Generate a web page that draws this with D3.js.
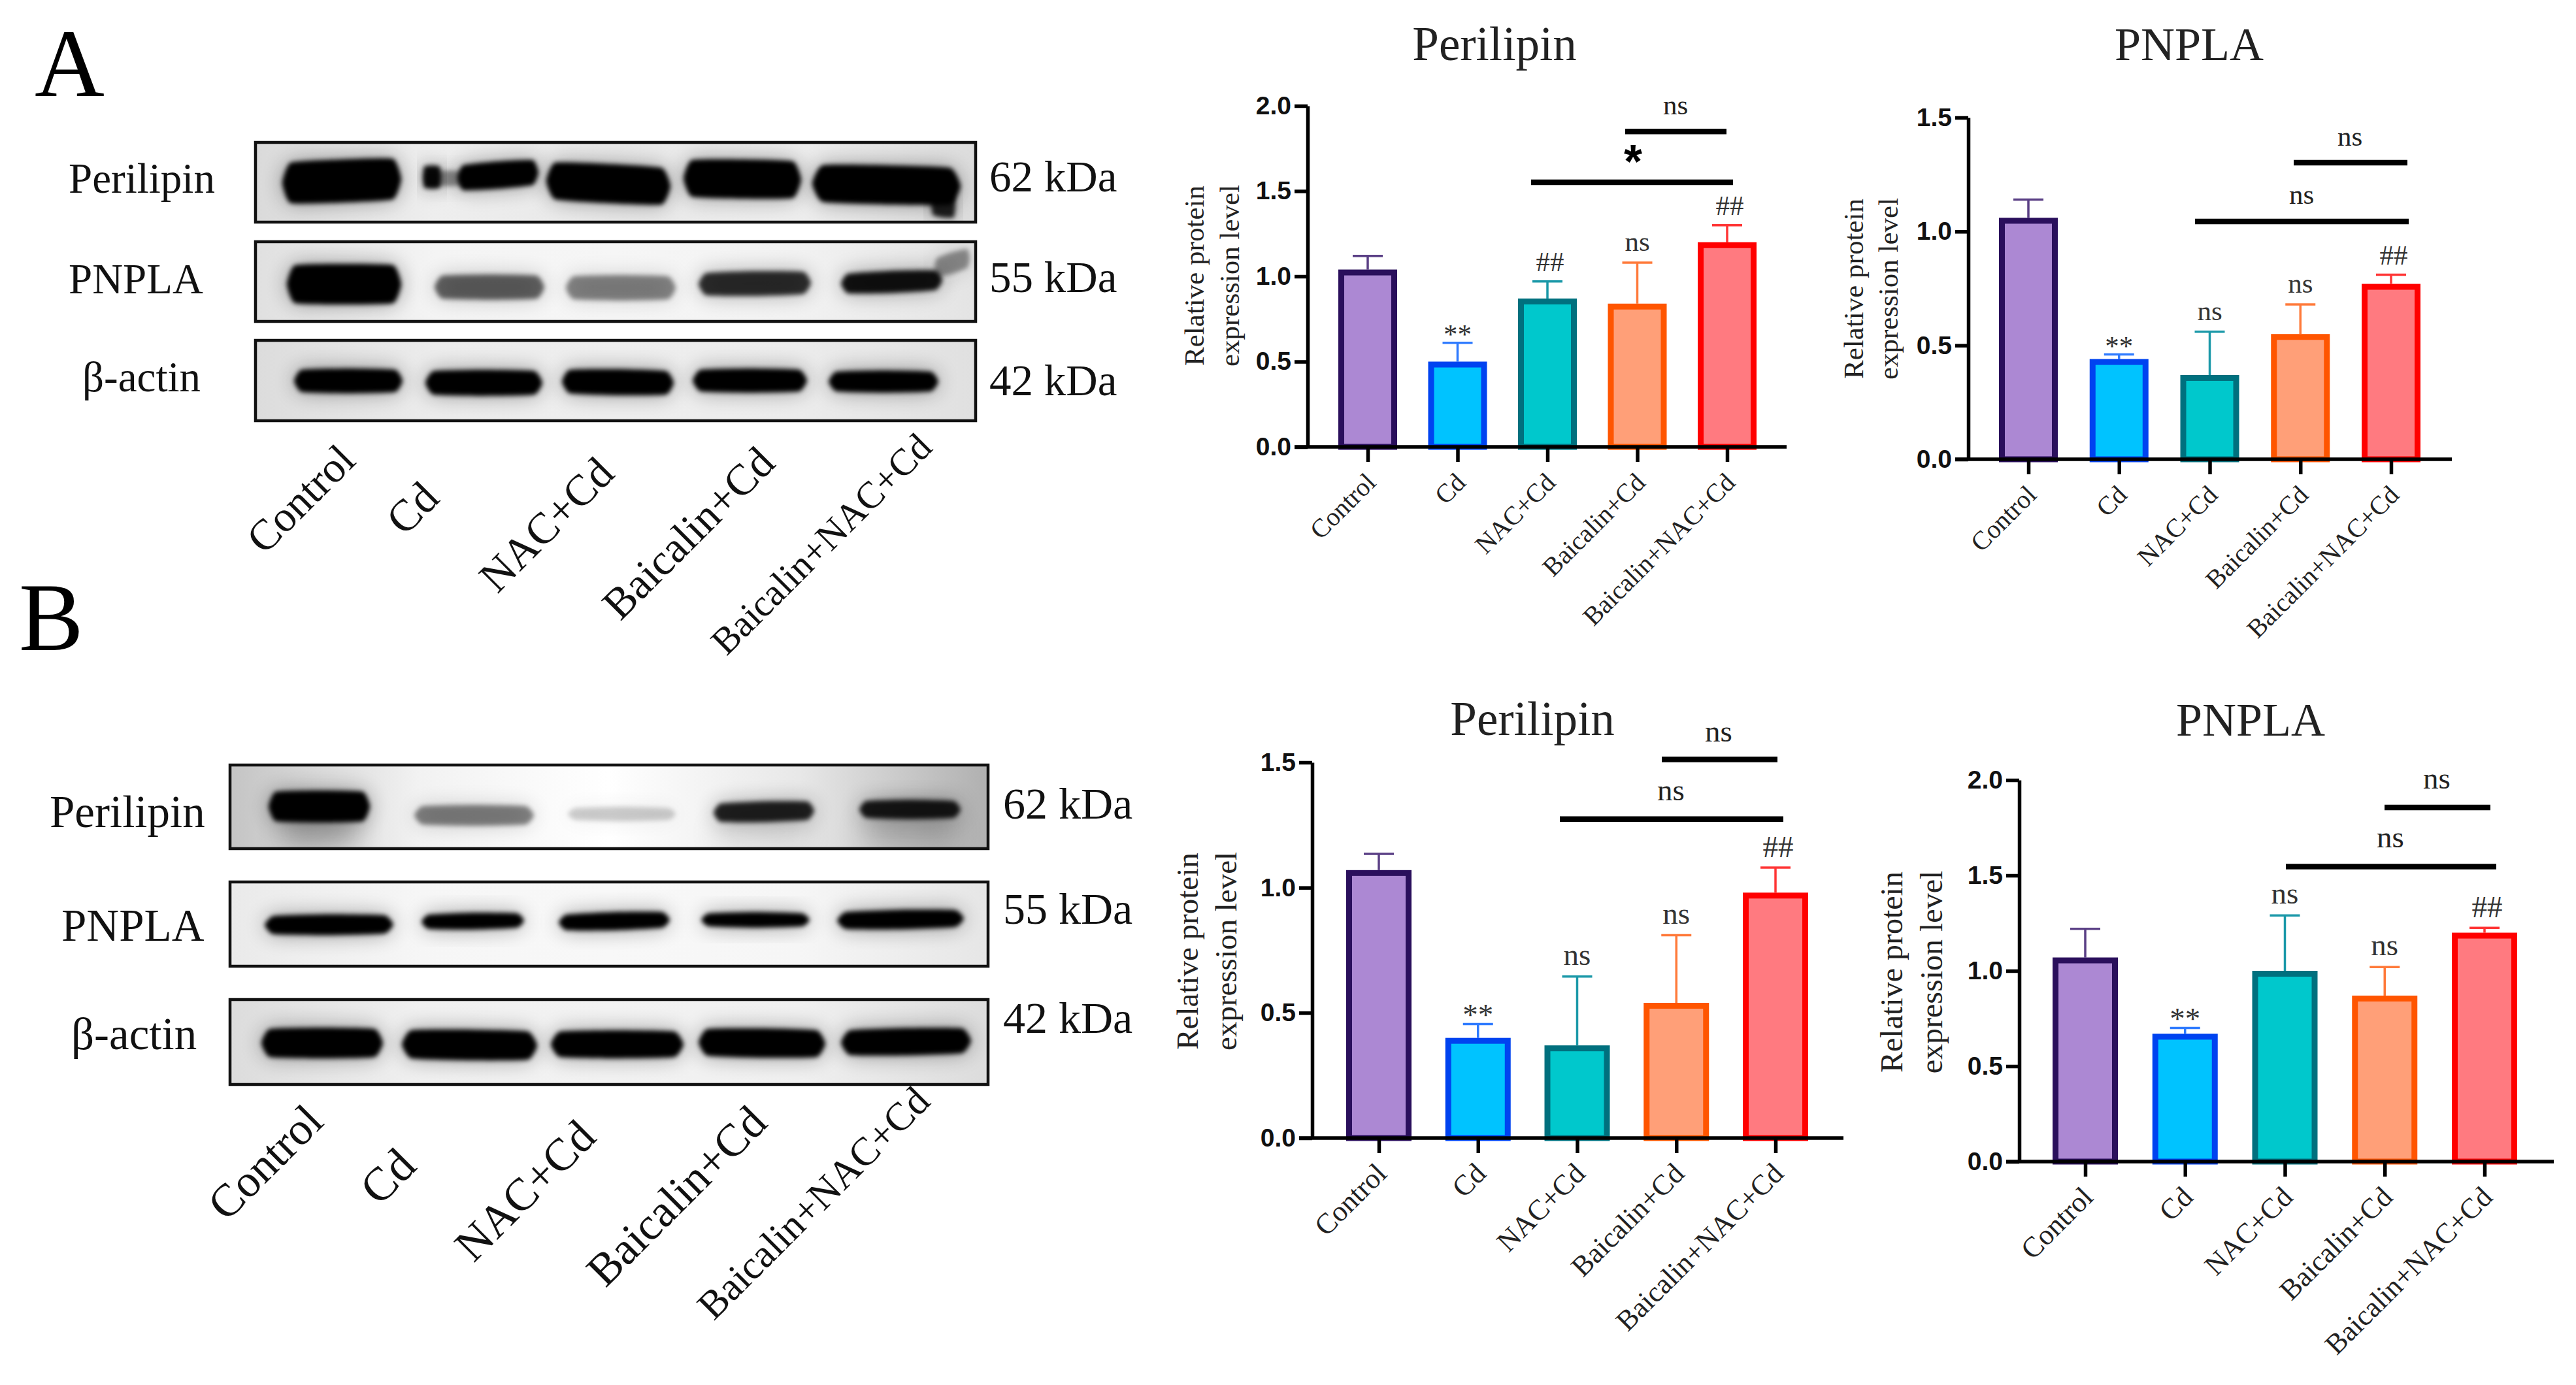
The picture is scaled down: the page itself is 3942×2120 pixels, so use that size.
<!DOCTYPE html>
<html><head><meta charset="utf-8">
<script src="https://cdn.jsdelivr.net/npm/d3@7/dist/d3.min.js"></script>
<style>html,body{margin:0;background:#fff}svg{display:block}</style></head>
<body><script>
// ---------- data ----------
const categories = ["Control","Cd","NAC+Cd","Baicalin+Cd","Baicalin+NAC+Cd"];
const meansAPerilipin = [1.04,0.50,0.87,0.84,1.20];
const errTopAPerilipin = [1.12,0.61,0.97,1.08,1.30];
const marksAPerilipin = ["","**","##","ns","##"];
const meansAPnpla = [1.06,0.44,0.37,0.55,0.77];
const errTopAPnpla = [1.14,0.46,0.56,0.68,0.81];
const marksAPnpla = ["","**","ns","ns","##"];
const meansBPerilipin = [1.07,0.40,0.37,0.54,0.98];
const errTopBPerilipin = [1.135,0.455,0.645,0.81,1.08];
const marksBPerilipin = ["","**","ns","ns","##"];
const meansBPnpla = [1.07,0.67,1.00,0.87,1.20];
const errTopBPnpla = [1.22,0.70,1.29,1.02,1.225];
const marksBPnpla = ["","**","ns","ns","##"];
const fills = ["#AC88D3","#00C3FF","#00C8CC","#FF9F78","#FF7A80"];
const strokes = ["#2A0F5C","#0043F0","#00707E","#FF5500","#FF0000"];
const errColors = ["#5A3F85","#2F7BFF","#1A98A8","#FF7A3A","#FF3535"];
const blotProteins = ["Perilipin","PNPLA","β-actin"];
const blotWeights = ["62 kDa","55 kDa","42 kDa"];

// ---------- layout ----------
const serif = "'Liberation Serif','Times New Roman',serif";
const sans = "'Liberation Sans',Arial,sans-serif";
const svg = d3.select("body").append("svg").attr("width",3942).attr("height",2120);
const defs = svg.append("defs");
[["b1",3.5],["b2",16],["b3",22]].forEach(([id,s])=>defs.append("filter").attr("id",id)
  .attr("x","-30%").attr("y","-100%").attr("width","160%").attr("height","300%")
  .append("feGaussianBlur").attr("stdDeviation",s));

const txt=(g,x,y,s,size,o={})=>g.append("text").attr("x",x).attr("y",y).text(s)
  .attr("font-family",o.family||serif).attr("font-size",size)
  .attr("font-weight",o.weight||"normal").attr("fill",o.fill||"#111")
  .attr("text-anchor",o.anchor||"start");

// ---------- bar charts ----------
const charts = [
 {title:"Perilipin",titleX:2287,titleY:92,titleSize:73,means:meansAPerilipin,tops:errTopAPerilipin,marks:marksAPerilipin,
  yMax:2,tickStep:.5,y0:684,y1:162,axisX:2001,xEnd:2734,t0:2093,t1:2643,barW:90,
  yt:[1829,1883,422,43],catSize:40,
  lines:[[2487,2642,1.85,"ns",2564,175],[2343,2652,1.552,"*",2499,272]]},
 {title:"PNPLA",titleX:3350,titleY:92,titleSize:72,means:meansAPnpla,tops:errTopAPnpla,marks:marksAPnpla,
  yMax:1.5,tickStep:.5,y0:703,y1:180,axisX:3012,xEnd:3752,t0:3104,t1:3659,barW:90,
  yt:[2838,2891,442,43],catSize:40,
  lines:[[3510,3684,1.302,"ns",3596,223],[3359,3686,1.044,"ns",3522,312]]},
 {title:"Perilipin",titleX:2345,titleY:1125,titleSize:73,means:meansBPerilipin,tops:errTopBPerilipin,marks:marksBPerilipin,
  yMax:1.5,tickStep:.5,y0:1742,y1:1167,axisX:2008,xEnd:2821,t0:2110,t1:2717,barW:100,
  yt:[1819,1878,1456,47],catSize:44,
  lines:[[2543,2720,1.512,"ns",2630,1135],[2387,2729,1.274,"ns",2557,1225]]},
 {title:"PNPLA",titleX:3444,titleY:1126,titleSize:72,means:meansBPnpla,tops:errTopBPnpla,marks:marksBPnpla,
  yMax:2,tickStep:.5,y0:1778,y1:1194,axisX:3090,xEnd:3908,t0:3191,t1:3802,barW:100,
  yt:[2897,2958,1488,48],catSize:44,
  lines:[[3649,3811,1.856,"ns",3729,1207],[3498,3820,1.546,"ns",3658,1297]]}
];
charts.forEach(c=>{
  const g=svg.append("g");
  const y=d3.scaleLinear().domain([0,c.yMax]).range([c.y0,c.y1]);
  const x=d3.scalePoint().domain(categories).range([c.t0,c.t1]);
  const sw=9;
  txt(g,c.titleX,c.titleY,c.title,c.titleSize,{anchor:"middle",fill:"#222"});
  const rows=categories.map((k,i)=>({k,i,m:c.means[i],t:c.tops[i],mark:c.marks[i]}));
  const eb=g.selectAll(".eb").data(rows).join("g").attr("stroke",d=>errColors[d.i]).attr("stroke-width",3.5);
  eb.append("line").attr("x1",d=>x(d.k)).attr("x2",d=>x(d.k)).attr("y1",d=>y(d.m)).attr("y2",d=>y(d.t));
  eb.append("line").attr("x1",d=>x(d.k)-23).attr("x2",d=>x(d.k)+23).attr("y1",d=>y(d.t)).attr("y2",d=>y(d.t));
  g.selectAll(".bar").data(rows).join("rect")
    .attr("x",d=>x(d.k)-c.barW/2+sw/2).attr("width",c.barW-sw)
    .attr("y",d=>y(d.m)+sw/2).attr("height",d=>c.y0-y(d.m)-sw/2)
    .attr("fill",d=>fills[d.i]).attr("stroke",d=>strokes[d.i]).attr("stroke-width",sw);
  const ya=g.append("g").attr("transform",`translate(${c.axisX},0)`)
    .call(d3.axisLeft(y).tickValues(d3.range(0,c.yMax+.001,c.tickStep)).tickFormat(d3.format(".1f")).tickSize(20).tickSizeOuter(0).tickPadding(5));
  ya.selectAll("path,line").attr("stroke","#000").attr("stroke-width",5.5);
  ya.selectAll("text").attr("font-family",sans).attr("font-weight","bold").attr("font-size",39).attr("fill","#111");
  const xa=g.append("g").attr("transform",`translate(0,${c.y0})`)
    .call(d3.axisBottom(x).tickSize(23).tickSizeOuter(0));
  xa.select("path").remove();
  xa.selectAll("line").attr("stroke","#000").attr("stroke-width",5.5);
  xa.selectAll("text").attr("font-family",serif).attr("font-size",c.catSize).attr("fill","#222")
    .attr("text-anchor","end").attr("dy",0).attr("y",0)
    .attr("transform","translate(14,57) rotate(-45)");
  g.append("line").attr("x1",c.axisX-20).attr("x2",c.xEnd).attr("y1",c.y0).attr("y2",c.y0).attr("stroke","#000").attr("stroke-width",5.5);
  [["Relative protein",c.yt[0]],["expression level",c.yt[1]]].forEach(([s,cx])=>{
    const bx=cx+c.yt[3]*.3;
    txt(g,0,0,s,c.yt[3],{anchor:"middle",fill:"#222"}).attr("transform",`translate(${bx},${c.yt[2]}) rotate(-90)`);
  });
  const off={ns:18,"##":16,"**":-1};
  g.selectAll(".mk").data(rows.filter(d=>d.mark)).join("text")
    .attr("x",d=>x(d.k)+(d.mark==="##"?4:0)).attr("y",d=>y(d.t)-off[d.mark]).text(d=>d.mark)
    .attr("text-anchor","middle").attr("font-family",serif).attr("font-size",c.catSize+3).attr("fill","#333");
  c.lines.forEach(([a,b,v,s,lx,ly])=>{
    g.append("line").attr("x1",a).attr("x2",b).attr("y1",y(v)).attr("y2",y(v)).attr("stroke","#000").attr("stroke-width",8.5);
    if(s==="*") txt(g,lx,ly,s,72,{family:sans,weight:"bold",anchor:"middle",fill:"#000"});
    else txt(g,lx,ly,s,c.catSize+3,{anchor:"middle",fill:"#222"});
  });
});

// ---------- western blots (band strength per lane; outlines from the layout tables) ----------
const blots=[
 {letter:"A",lx:53,ly:147,labelSize:65,kdSize:67,
  rows:[
   {box:[391,218,1493,340],bg:["#dadada","#eeeeee","#e8e8e8","#ededed","#dcdcdc"],lab:[105,295],kd:[1514,293],
    smears:[],
    bands:[[432,614,248,312,1,-6],[647,675,254,288,.95,0],[650,722,262,284,.4,0],[700,824,252,292,1,-8],[836,1026,248,306,1,8],[1046,1226,244,302,1,2],[1243,1470,252,310,1,4],[1425,1462,295,330,.85,4]]},
   {box:[391,370,1493,492],bg:["#e0e0e0","#f4f4f4","#f6f6f6","#f2f2f2","#e4e4e4"],lab:[105,449],kd:[1514,447],
    smears:[],
    bands:[[439,614,405,465,1,0],[665,833,421,458,.58,0],[866,1034,422,459,.44,0],[1069,1241,417,453,.8,-2],[1287,1442,418,450,.92,-5],[1430,1484,394,425,.38,-14]]},
   {box:[391,521,1493,644],bg:["#dcdcdc","#ececec","#eeeeee","#ececec","#e0e0e0"],lab:[126,599],kd:[1514,605],
    smears:[],
    bands:[[450,616,565,601,1,0],[651,830,567,605,1,0],[860,1031,565,603,1,2],[1060,1235,565,600,1,0],[1268,1436,568,600,1,0]]}
  ],
  cats:[[547,708,66],[675,766,68],[943,728,67],[1189,712,67],[1429,688,58]]},
 {letter:"B",lx:29,ly:995,labelSize:69,kdSize:68,
  rows:[
   {box:[352,1171,1512,1299],bg:["#c4c4c4","#f2f2f2","#ffffff","#e8e8e8","#b0b0b0"],lab:[76,1266],kd:[1535,1253],
    smears:[[430,550,1250,1295,.3],[1320,1465,1250,1295,.2],[1090,1240,1255,1295,.1]],
    bands:[[411,566,1211,1258,1,0],[634,817,1233,1263,.46,0],[869,1034,1236,1256,.18,0],[1092,1246,1229,1259,.85,-3],[1315,1470,1225,1253,.88,0]]},
   {box:[352,1350,1512,1479],bg:["#eaeaea","#f6f6f6","#f8f8f8","#f6f6f6","#e6e6e6"],lab:[94,1440],kd:[1535,1414],
    smears:[],
    bands:[[405,602,1401,1431,1,-1],[645,802,1399,1423,1,-2],[855,1025,1399,1425,1,-4],[1073,1239,1397,1419,1,0],[1281,1475,1395,1423,1,-3]]},
   {box:[352,1530,1512,1660],bg:["#dcdcdc","#f0f0f0","#f2f2f2","#f0f0f0","#dcdcdc"],lab:[109,1606],kd:[1535,1581],
    smears:[],
    bands:[[400,586,1574,1619,1,0],[615,822,1576,1621,1,2],[843,1046,1578,1619,1,0],[1069,1263,1574,1617,1,2],[1287,1486,1576,1616,1,-3]]}
  ],
  cats:[[498,1720,70],[640,1788,72],[915,1744,70],[1177,1722,70],[1426,1689,61]]}
];
const outline=d3.line().curve(d3.curveCardinalClosed.tension(.6));
blots.forEach((b,bi)=>{
  const g=svg.append("g");
  txt(g,b.lx,b.ly,b.letter,148,{fill:"#000"});
  b.rows.forEach((r,ri)=>{
    const [x0,y0,x1,y1]=r.box, id=`c${bi}${ri}`;
    defs.append("clipPath").attr("id",id).append("rect").attr("x",x0).attr("y",y0).attr("width",x1-x0).attr("height",y1-y0);
    const gr=defs.append("linearGradient").attr("id",`g${bi}${ri}`);
    r.bg.forEach((col,i)=>gr.append("stop").attr("offset",i/(r.bg.length-1)).attr("stop-color",col));
    const cg=g.append("g").attr("clip-path",`url(#${id})`);
    cg.append("rect").attr("x",x0).attr("y",y0).attr("width",x1-x0).attr("height",y1-y0).attr("fill",`url(#g${bi}${ri})`);
    const shape=d=>{const [a,c,t,u,,tl=0]=d,w=c-a,m=(t+u)/2;
      return outline([[a,m],[a+w*.07,t+1],[a+w*.5,t+tl/2-1],[c-w*.07,t+tl+1],[c,m+tl],[c-w*.07,u+tl-1],[a+w*.5,u+tl/2+1],[a+w*.07,u-1]]);};
    cg.selectAll(".smear").data(r.smears).join("path").attr("d",shape).attr("fill","#000")
      .attr("opacity",d=>d[4]).attr("filter","url(#b3)");
    cg.selectAll(".halo").data(r.bands).join("path").attr("d",shape).attr("fill","#000")
      .attr("opacity",d=>d[4]*.38).attr("filter","url(#b2)");
    cg.selectAll(".band").data(r.bands).join("path").attr("d",shape).attr("fill","#000")
      .attr("opacity",d=>d[4]).attr("filter","url(#b1)");
    g.append("rect").attr("x",x0).attr("y",y0).attr("width",x1-x0).attr("height",y1-y0)
      .attr("fill","none").attr("stroke","#111").attr("stroke-width",4.5);
    txt(g,r.lab[0],r.lab[1],blotProteins[ri],b.labelSize);
    txt(g,r.kd[0],r.kd[1],blotWeights[ri],b.kdSize);
  });
  g.selectAll(".cat").data(categories).join("text").text(d=>d)
    .attr("font-family",serif).attr("fill","#111").attr("text-anchor","end")
    .attr("font-size",(d,i)=>b.cats[i][2])
    .attr("transform",(d,i)=>`translate(${b.cats[i][0]},${b.cats[i][1]}) rotate(-45)`);
});
</script></body></html>
